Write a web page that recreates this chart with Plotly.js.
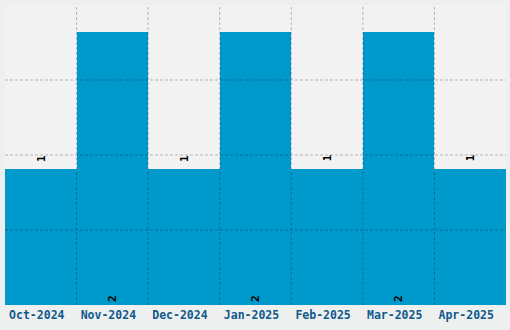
<!DOCTYPE html>
<html><head><meta charset="utf-8">
<script src="https://cdn.plot.ly/plotly-3.0.1.min.js"></script>
<style>body{margin:0;background:#eef0f0}</style>
</head><body>
<div id="chart" style="width:510px;height:330px"></div>
<script>
const months = ["Oct-2024","Nov-2024","Dec-2024","Jan-2025","Feb-2025","Mar-2025","Apr-2025"];
const counts = [1,2,1,2,1,2,1];
const labelInside = [false,true,false,true,false,true,false];
const yGrid = [0.55,1.1,1.65];
const xGrid = [0.5,1.5,2.5,3.5,4.5,5.5];

const labelFont = {family:"DejaVu Sans Mono", size:11, color:"#000", weight:"bold"};
const gridStyle = {color:"rgba(0,0,0,0.25)", width:1, dash:"3px,2px"};
const shapes = [];
yGrid.forEach(v => shapes.push({type:"line", layer:"above", xref:"paper", yref:"y", x0:0, x1:1, y0:v, y1:v, line:gridStyle}));
xGrid.forEach(v => shapes.push({type:"line", layer:"above", xref:"x", yref:"paper", x0:v, x1:v, y0:0, y1:1, line:gridStyle}));

const annotations = [];
months.forEach((m,i) => {
  if (!labelInside[i]) annotations.push({x:m, y:counts[i], xref:"x", yref:"y", text:String(counts[i]),
    showarrow:false, textangle:-90, yanchor:"bottom", yshift:5, font:labelFont});
});

Plotly.newPlot("chart", [{
  type:"bar", x:months, y:counts,
  marker:{color:"#0099cc"}, width:1,
  text:counts.map((c,i)=> labelInside[i] ? String(c) : ""), textposition:"inside", insidetextanchor:"start",
  textangle:-90,
  textfont:labelFont,
  hoverinfo:"none"
}], {
  width:510, height:330,
  margin:{l:5, r:4, t:5, b:25},
  paper_bgcolor:"#eef0f0", plot_bgcolor:"#f2f2f2",
  showlegend:false, bargap:0,
  xaxis:{type:"category", showgrid:false, zeroline:false, showline:false, ticks:"",
    ticklabelshift:-4, ticklabelstandoff:1,
    tickfont:{family:"DejaVu Sans Mono", size:11.5, color:"#105a8c", weight:"bold"}},
  yaxis:{range:[0,2.2], showgrid:false, zeroline:false, showticklabels:false, ticks:""},
  shapes:shapes, annotations:annotations
}, {displayModeBar:false, staticPlot:true});
</script>
</body></html>
